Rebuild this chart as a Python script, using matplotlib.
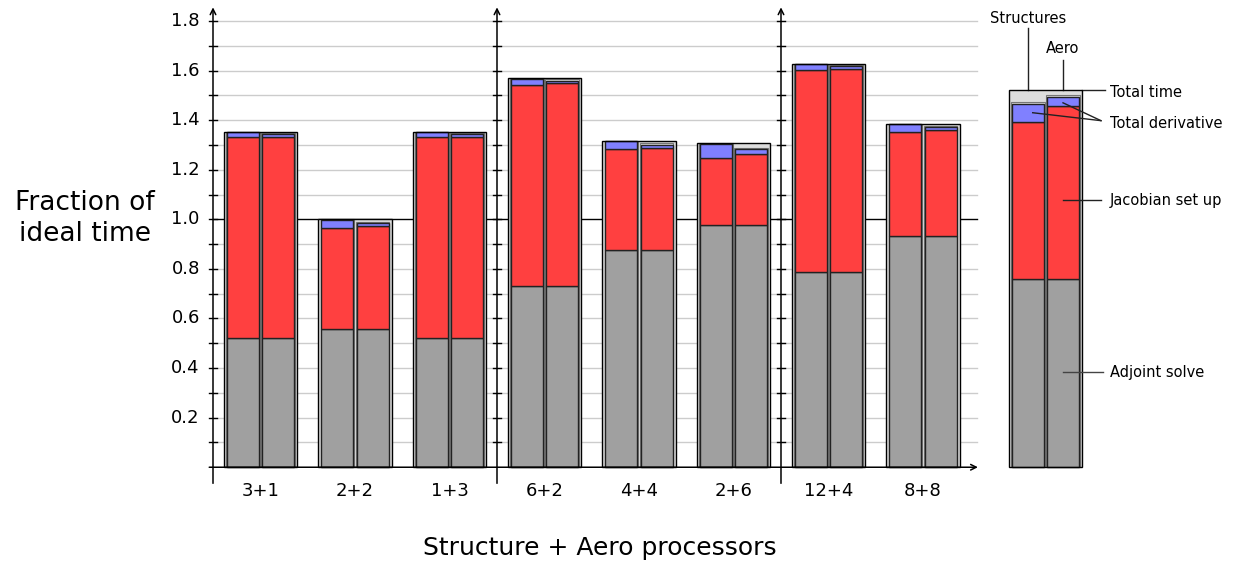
import matplotlib.pyplot as plt
import numpy as np

categories = ['3+1', '2+2', '1+3', '6+2', '4+4', '2+6', '12+4', '8+8']
total_time = [1.353, 1.000, 1.353, 1.569, 1.317, 1.306, 1.628, 1.386]

# structures (left bar) and aero (right bar) stacks
struct_adjoint = [0.520, 0.559, 0.520, 0.731, 0.876, 0.976, 0.786, 0.934]
struct_jacobian = [0.811, 0.407, 0.811, 0.812, 0.406, 0.273, 0.815, 0.417]
struct_derivative = [0.022, 0.031, 0.022, 0.023, 0.035, 0.055, 0.024, 0.032]
aero_adjoint = [0.520, 0.559, 0.520, 0.731, 0.876, 0.976, 0.786, 0.934]
aero_jacobian = [0.814, 0.415, 0.814, 0.818, 0.413, 0.287, 0.820, 0.426]
aero_derivative = [0.009, 0.010, 0.009, 0.010, 0.011, 0.019, 0.012, 0.011]

# example bar used as the key
key_total = 1.52
key_adjoint = [0.759, 0.759]
key_jacobian = [0.632, 0.697]
key_derivative = [0.076, 0.038]

yticks = [0.2, 0.4, 0.6, 0.8, 1.0, 1.2, 1.4, 1.6, 1.8]

grey = '#a0a0a0'
red = '#ff4040'
blue = '#8080ff'
boxc = '#dddddd'

fig = plt.figure(figsize=(12.45, 5.7), dpi=100)
ax = fig.add_axes([0.15588, 0.1368, 0.8364, 0.8568])
ax.set_xlim(-0.2, 10.8)
ax.set_ylim(-0.1, 1.87)
ax.axis('off')

x = np.arange(len(categories)) + 0.5
grid_end = 8.07

# grid
for g in np.arange(0.1, 1.85, 0.1):
    if abs(g - 1.0) < 1e-6:
        ax.plot([0, grid_end], [g, g], color='black', lw=1.0, zorder=1)
    else:
        ax.plot([0, grid_end], [g, g], color='#cccccc', lw=1.0, zorder=0)

# axes with arrows and ticks
for xv in [0, 3, 6]:
    ax.annotate('', xy=(xv, 1.855), xytext=(xv, -0.065),
                arrowprops=dict(arrowstyle='->', lw=1.1, color='black',
                                shrinkA=0, shrinkB=0), zorder=6)
    for t in np.arange(0.1, 1.85, 0.1):
        ax.plot([xv - 0.04, xv + 0.04], [t, t], color='black', lw=1.0, zorder=6)
ax.annotate('', xy=(grid_end + 0.01, 0), xytext=(-0.04, 0),
            arrowprops=dict(arrowstyle='->', lw=1.1, color='black',
                            shrinkA=0, shrinkB=0), zorder=6)

for t in yticks:
    ax.text(-0.14, t, f'{t:.1f}', ha='right', va='center', fontsize=13)
for xi, lab in zip(x, categories):
    ax.text(xi, -0.095, lab, ha='center', va='center', fontsize=13)

bw = 0.338
off = 0.185


def draw_group(xc, total, adj, jac, der, zo=2):
    ax.bar(xc, total, width=0.772, color=boxc, edgecolor='none', zorder=zo)
    for k, sgn in enumerate([-1, 1]):
        xb = xc + sgn * off
        top = adj[k] + jac[k] + der[k]
        ax.bar(xb, min(top + 0.006, total), width=bw + 0.02, color=boxc,
               edgecolor='#777777', lw=0.8, zorder=zo + 1)
        ax.bar(xb, adj[k], width=bw, color=grey, edgecolor='#222222', lw=1.0, zorder=zo + 2)
        ax.bar(xb, jac[k], bottom=adj[k], width=bw, color=red, edgecolor='#222222',
               lw=1.0, zorder=zo + 2)
        ax.bar(xb, der[k], bottom=adj[k] + jac[k], width=bw, color=blue,
               edgecolor='#222222', lw=1.0, zorder=zo + 2)
    ax.bar(xc, total, width=0.772, fill=False, edgecolor='black', lw=1.0, zorder=zo + 3)


for i in range(len(categories)):
    draw_group(x[i], total_time[i],
               [struct_adjoint[i], aero_adjoint[i]],
               [struct_jacobian[i], aero_jacobian[i]],
               [struct_derivative[i], aero_derivative[i]])

# key
kx = 8.794
draw_group(kx, key_total, key_adjoint, key_jacobian, key_derivative)
lc = '#222222'
lfs = 10.5
ax.plot([kx - off, kx - off], [key_total, 1.772], color=lc, lw=1.0)
ax.text(kx - off, 1.812, 'Structures', ha='center', va='center', fontsize=lfs)
ax.plot([kx + off, kx + off], [key_total, 1.643], color=lc, lw=1.0)
ax.text(kx + off, 1.691, 'Aero', ha='center', va='center', fontsize=lfs)
ax.plot([kx + 0.386, 9.42], [key_total, key_total], color=lc, lw=1.0)
ax.text(9.475, 1.513, 'Total time', ha='left', va='center', fontsize=lfs)
ax.plot([kx - off + 0.05, 9.38], [1.430, 1.398], color=lc, lw=1.0, zorder=7)
ax.plot([kx + off, 9.38], [1.470, 1.398], color=lc, lw=1.0, zorder=7)
ax.text(9.475, 1.388, 'Total derivative', ha='left', va='center', fontsize=lfs)
ax.plot([kx + off, 9.38], [1.076, 1.076], color=lc, lw=1.0, zorder=7)
ax.text(9.475, 1.074, 'Jacobian set up', ha='left', va='center', fontsize=lfs)
ax.plot([kx + off, 9.40], [0.383, 0.383], color='#444444', lw=1.0, zorder=7)
ax.text(9.475, 0.384, 'Adjoint solve', ha='left', va='center', fontsize=lfs)

fig.text(0.068, 0.6175, 'Fraction of\nideal time', ha='center', va='center',
         fontsize=19, linespacing=1.25)
fig.text(0.482, 0.0386, 'Structure + Aero processors', ha='center', va='center',
         fontsize=18)

fig.savefig('out.png', dpi=100)
